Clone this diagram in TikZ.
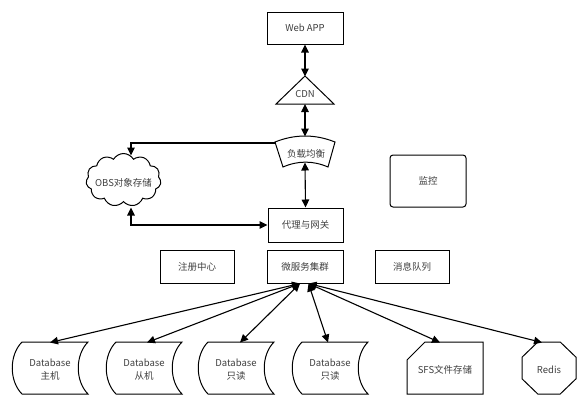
\documentclass[tikz,border=0pt]{standalone}
\usepackage{fontspec}
\setmainfont{Noto Sans CJK SC}
\usetikzlibrary{arrows.meta,shapes.symbols,calc}
\definecolor{txt}{gray}{0.25}
\newcommand\storeddata[4]{%
  \draw[shapeline] (#1+10,342) -- (#1+76,342) .. controls (#1+63,355) and (#1+63,381) .. (#1+76,394)
    -- (#1+10,394) .. controls (#1-3,381) and (#1-3,355) .. (#1+10,342) -- cycle;
  \node[dbtext] (#2) at (#1+38,369.5) {Database\\#3};
  \coordinate (#2T) at (#4,342.5);
}
\begin{document}
\begin{tikzpicture}[x=1bp,y=-1bp,
  font=\fontsize{9.5bp}{11bp}\selectfont,
  every node/.style={text=txt},
  shapeline/.style={draw, line width=1bp, line join=miter},
  box/.style={draw, line width=1bp, minimum width=75bp, minimum height=33bp, inner sep=0pt},
  dbtext/.style={align=center, inner sep=0pt, font=\fontsize{9.5bp}{13bp}\selectfont},
  conn/.style={line width=1.1bp, {Triangle[length=8bp,width=7.5bp]}-{Triangle[length=8bp,width=7.5bp]}},
  connL/.style={line width=1.1bp, {Triangle[length=8bp,width=7.5bp]}-}]
\useasboundingbox[fill=white] (0,0) rectangle (588,402);

% top column
\node[box, minimum width=76bp, minimum height=32bp] (web) at (305,28) {Web APP};
\draw[shapeline] (305,76) -- (334,104) -- (276,104) -- cycle;
\node[inner sep=0pt] (cdn) at (305,94) {CDN};
\coordinate (cdnT) at (305,76.5);
\coordinate (cdnB) at (305,104);

\draw[shapeline] (275,142) .. controls (295,134) and (315,134) .. (335,142) -- (328,167)
   .. controls (313,160.5) and (298,160.5) .. (283,167) -- cycle;
\node[inner sep=0pt] (lb) at (306,154) {负载均衡};
\coordinate (lbT) at (305,136.5);
\coordinate (lbB) at (305,162.5);
\coordinate (lbL) at (275.5,143);

\node[box, minimum width=75bp, minimum height=34bp] (proxy) at (305.5,225) {代理与网关};

\node[cloud, draw, line width=1bp, cloud puffs=11, cloud puff arc=120, aspect=1.45,
      minimum width=75bp, minimum height=53bp, inner sep=0pt] (obs) at (123.5,180) {};
\node[inner sep=0pt] (obstext) at (123.5,183) {OBS对象存储};
\coordinate (obsT) at (131,155.5);
\coordinate (obsB) at (131,207.5);

\node[box, rounded corners=3bp, minimum width=76bp, minimum height=52bp] (mon) at (428,181) {监控};

% middle row
\node[box, minimum width=74bp] (reg) at (197,266.5) {注册中心};
\node[box, minimum width=76bp] (ms) at (305,266.5) {微服务集群};
\node[box, minimum width=74bp] (mq) at (412,266.5) {消息队列};
\coordinate (msL) at (300,283.5);
\coordinate (msR) at (308.5,283.5);

% bottom row
\storeddata{12}{d1}{主机}{50}
\storeddata{106}{d2}{从机}{147}
\storeddata{198}{d3}{只读}{240}
\storeddata{292}{d4}{只读}{328}

\draw[shapeline] (407,360) -- (425,342) -- (483,342) -- (483,394) -- (407,394) -- cycle;
\node[inner sep=0pt] (sfs) at (445,369.5) {SFS文件存储};
\coordinate (sfsT) at (440,342.5);

\draw[shapeline] (537.8,342) -- (560.2,342) -- (576,357.2) -- (576,378.8) -- (560.2,394)
   -- (537.8,394) -- (522,378.8) -- (522,357.2) -- cycle;
\node[inner sep=0pt] (redis) at (549,369.5) {Redis};
\coordinate (redisT) at (542,342.5);

% connectors
\draw[conn] (web.south) -- (cdnT);
\draw[conn] (cdnB) -- (lbT);
\draw[conn] (lbB) -- (proxy.north);
\draw[connL] (obsT) |- (lbL);
\draw[conn] (obsB) |- (proxy.west);

\draw[conn] (msL) -- (d1T);
\draw[conn] (msL) -- (d2T);
\draw[conn] (msL) -- (d3T);
\draw[conn] (msR) -- (d4T);
\draw[conn] (msR) -- (sfsT);
\draw[conn] (msR) -- (redisT);
\end{tikzpicture}
\end{document}
